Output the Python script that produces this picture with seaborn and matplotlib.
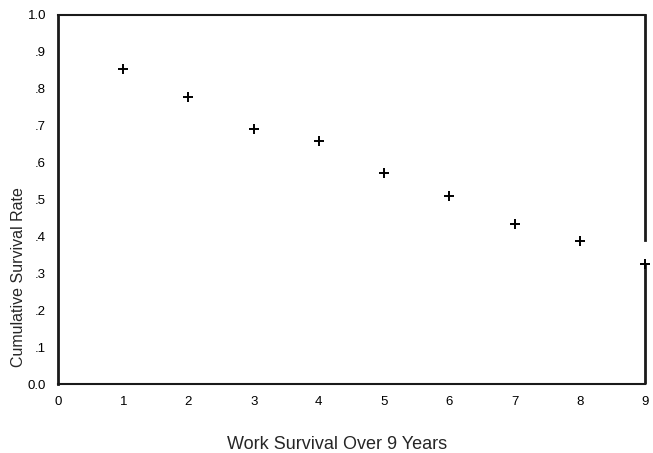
import matplotlib
matplotlib.use("Agg")
import matplotlib.pyplot as plt
import seaborn as sns
import pandas as pd

# cumulative survival by year
years = [1, 2, 3, 4, 5, 6, 7, 8, 9]
survival = [0.854, 0.779, 0.690, 0.658, 0.571, 0.509, 0.434, 0.387, 0.325]

y_ticks = [0.0, 0.1, 0.2, 0.3, 0.4, 0.5, 0.6, 0.7, 0.8, 0.9, 1.0]
y_labels = ["0.0", ".1", ".2", ".3", ".4", ".5", ".6", ".7", ".8", ".9", "1.0"]
x_ticks = [0, 1, 2, 3, 4, 5, 6, 7, 8, 9]

sns.set_style("white")
plt.rcParams["font.family"] = ["Liberation Sans", "DejaVu Sans"]

df = pd.DataFrame({"year": years, "survival": survival})

fig = plt.figure(figsize=(6.53, 4.53), dpi=100)
ax = fig.add_axes([0.0888, 0.1517, 0.8989, 0.8152])

sns.scatterplot(data=df, x="year", y="survival", marker="+", s=55,
                color="black", linewidth=1.4, ax=ax, clip_on=False, zorder=5)

ax.set_xlim(0, 9)
ax.set_ylim(0, 1.0)
ax.set_xticks(x_ticks)
ax.set_yticks(y_ticks)
ax.set_yticklabels(y_labels)

ax.tick_params(axis="both", direction="out", length=2.5, width=2.5,
               colors="black", labelsize=9.5, pad=6)
ax.tick_params(axis="x", pad=6)

for side in ["left", "bottom", "top", "right"]:
    ax.spines[side].set_color("#1a1a1a")
ax.spines["left"].set_linewidth(2.0)
ax.spines["bottom"].set_linewidth(1.5)
ax.spines["top"].set_linewidth(1.5)
ax.spines["right"].set_linewidth(2.0)
# the scan shows a gap in the right frame above the last point
ax.spines["right"].set_bounds(0.391, 1.0)
ax.vlines(9, 0, survival[-1], color="#1a1a1a", linewidth=2.0, clip_on=False)

ax.set_xlabel("Work Survival Over 9 Years", fontsize=13)
ax.set_ylabel("Cumulative Survival Rate", fontsize=11.5)
ax.xaxis.set_label_coords(0.476, -0.14)
ax.yaxis.set_label_coords(-0.054, 0.291)

fig.savefig("out.png", dpi=100)
